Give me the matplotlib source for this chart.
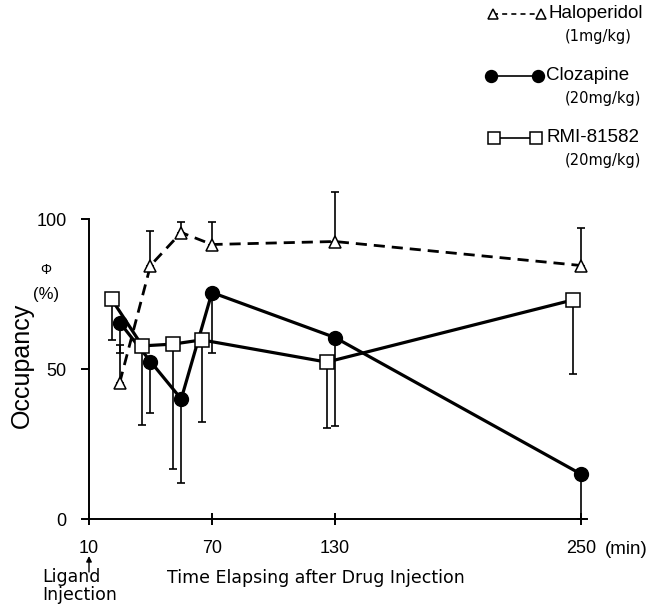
import matplotlib
matplotlib.use("Agg")
import matplotlib.pyplot as plt
from matplotlib.lines import Line2D
from matplotlib.patches import FancyArrowPatch

# time after drug injection (min) and occupancy (%)
halo_t = [25, 40, 55, 70, 130, 250]
halo_y = [45.5, 84.5, 95.5, 91.5, 92.5, 84.5]
halo_up = [12.5, 11.5, 3.5, 7.5, 16.5, 12.5]

cloz_t = [25, 40, 55, 70, 130, 250]
cloz_y = [65.5, 52.5, 40, 75.5, 60.5, 15]
cloz_dn = [10, 17, 28, 20, 29.5, 15]

rmi_t = [21, 36, 51, 65, 126, 246]
rmi_y = [73.3, 57.7, 58.3, 59.7, 52.3, 73]
rmi_dn = [13.5, 26.5, 41.5, 27.5, 22, 24.5]

xticks = [10, 70, 130, 250]
yticks = [0, 50, 100]

W, H = 653, 616
fig = plt.figure(figsize=(W / 100, H / 100), dpi=100)
plt.rcParams['font.family'] = ['Liberation Sans', 'DejaVu Sans']

ax = fig.add_axes([89 / W, (H - 519) / H, (587 - 89) / W, 300 / H])
ax.set_xlim(10, 253)
ax.set_ylim(0, 100)

ekw = dict(ecolor='black', elinewidth=1.2, capsize=3.2, capthick=1.2)
ax.errorbar(halo_t, halo_y, yerr=[[0] * 6, halo_up], fmt='none', clip_on=False, **ekw)
ax.errorbar(cloz_t, cloz_y, yerr=[cloz_dn, [0] * 6], fmt='none', clip_on=False, **ekw)
ax.errorbar(rmi_t, rmi_y, yerr=[rmi_dn, [0] * 6], fmt='none', clip_on=False, **ekw)

ax.plot(halo_t, halo_y, color='black', ls=(0, (4, 2.5)), lw=2.0, marker='^',
        ms=8, mfc='white', mec='black', mew=1.1, clip_on=False, zorder=4)
ax.plot(cloz_t, cloz_y, color='black', lw=2.3, marker='o', ms=10,
        mfc='black', mec='black', clip_on=False, zorder=5)
ax.plot(rmi_t, rmi_y, color='black', lw=2.3, marker='s', ms=10,
        mfc='white', mec='black', mew=1.1, clip_on=False, zorder=6)

for s in ['top', 'right']:
    ax.spines[s].set_visible(False)
for s in ['left', 'bottom']:
    ax.spines[s].set_linewidth(1.4)
ax.spines['left'].set_bounds(0, 100)

ax.set_xticks(xticks)
ax.set_xticklabels([str(v) for v in xticks])
ax.set_yticks(yticks)
ax.set_yticklabels([str(v) for v in yticks])
ax.tick_params(axis='x', direction='inout', length=8, width=1.4, pad=11, labelsize=13)
ax.tick_params(axis='y', direction='out', length=6, width=1.4, pad=10, labelsize=13)

fig.text(605 / W, 1 - 549 / H, '(min)', fontsize=13.5, va='center', ha='left')
fig.text(22 / W, 1 - 365 / H, 'Occupancy', fontsize=18, rotation=90,
         va='center', ha='center')
fig.text(46 / W, 1 - 270 / H, 'Φ', fontsize=10, va='center', ha='center')
fig.text(46 / W, 1 - 295 / H, '(%)', fontsize=12, va='center', ha='center')

# small arrow under the "10" tick
fig.add_artist(FancyArrowPatch(
    (89 / W, 1 - 572 / H), (89 / W, 1 - 556 / H), transform=fig.transFigure,
    arrowstyle='-|>', mutation_scale=8, lw=1.0, color='black',
    shrinkA=0, shrinkB=0))
fig.text(42 / W, 1 - 586 / H, 'Ligand\nInjection', fontsize=12.5, va='center',
         ha='left', linespacing=1.0, family='DejaVu Sans')
fig.text(167 / W, 1 - 578 / H, 'Time Elapsing after Drug Injection', fontsize=12.5,
         va='center', ha='left', family='DejaVu Sans')

# legend drawn by hand
leg = [
    ('Haloperidol', '(1mg/kg)', '^', 'white', (0, (3, 2.5)), 14, 36, 493, 541, 548),
    ('Clozapine', '(20mg/kg)', 'o', 'black', '-', 76, 99, 491, 538, 546),
    ('RMI-81582', '(20mg/kg)', 's', 'white', '-', 138, 160, 494, 536, 547),
]
for name, dose, mk, fc, ls, y0, y1, x0, x1, xt in leg:
    ms = 7 if mk == '^' else 8.5
    fig.add_artist(Line2D([x0 / W, x1 / W], [1 - y0 / H, 1 - y0 / H],
                          transform=fig.transFigure, color='black', ls=ls, lw=1.2,
                          marker=mk, ms=ms, mfc=fc, mec='black', mew=1.1))
    fig.text(xt / W, 1 - y0 / H, name, fontsize=13.5, va='center', ha='left')
    fig.text(565 / W, 1 - y1 / H, dose, fontsize=10.5, va='center', ha='left',
             family='DejaVu Sans')

fig.savefig('out.png', dpi=100)
